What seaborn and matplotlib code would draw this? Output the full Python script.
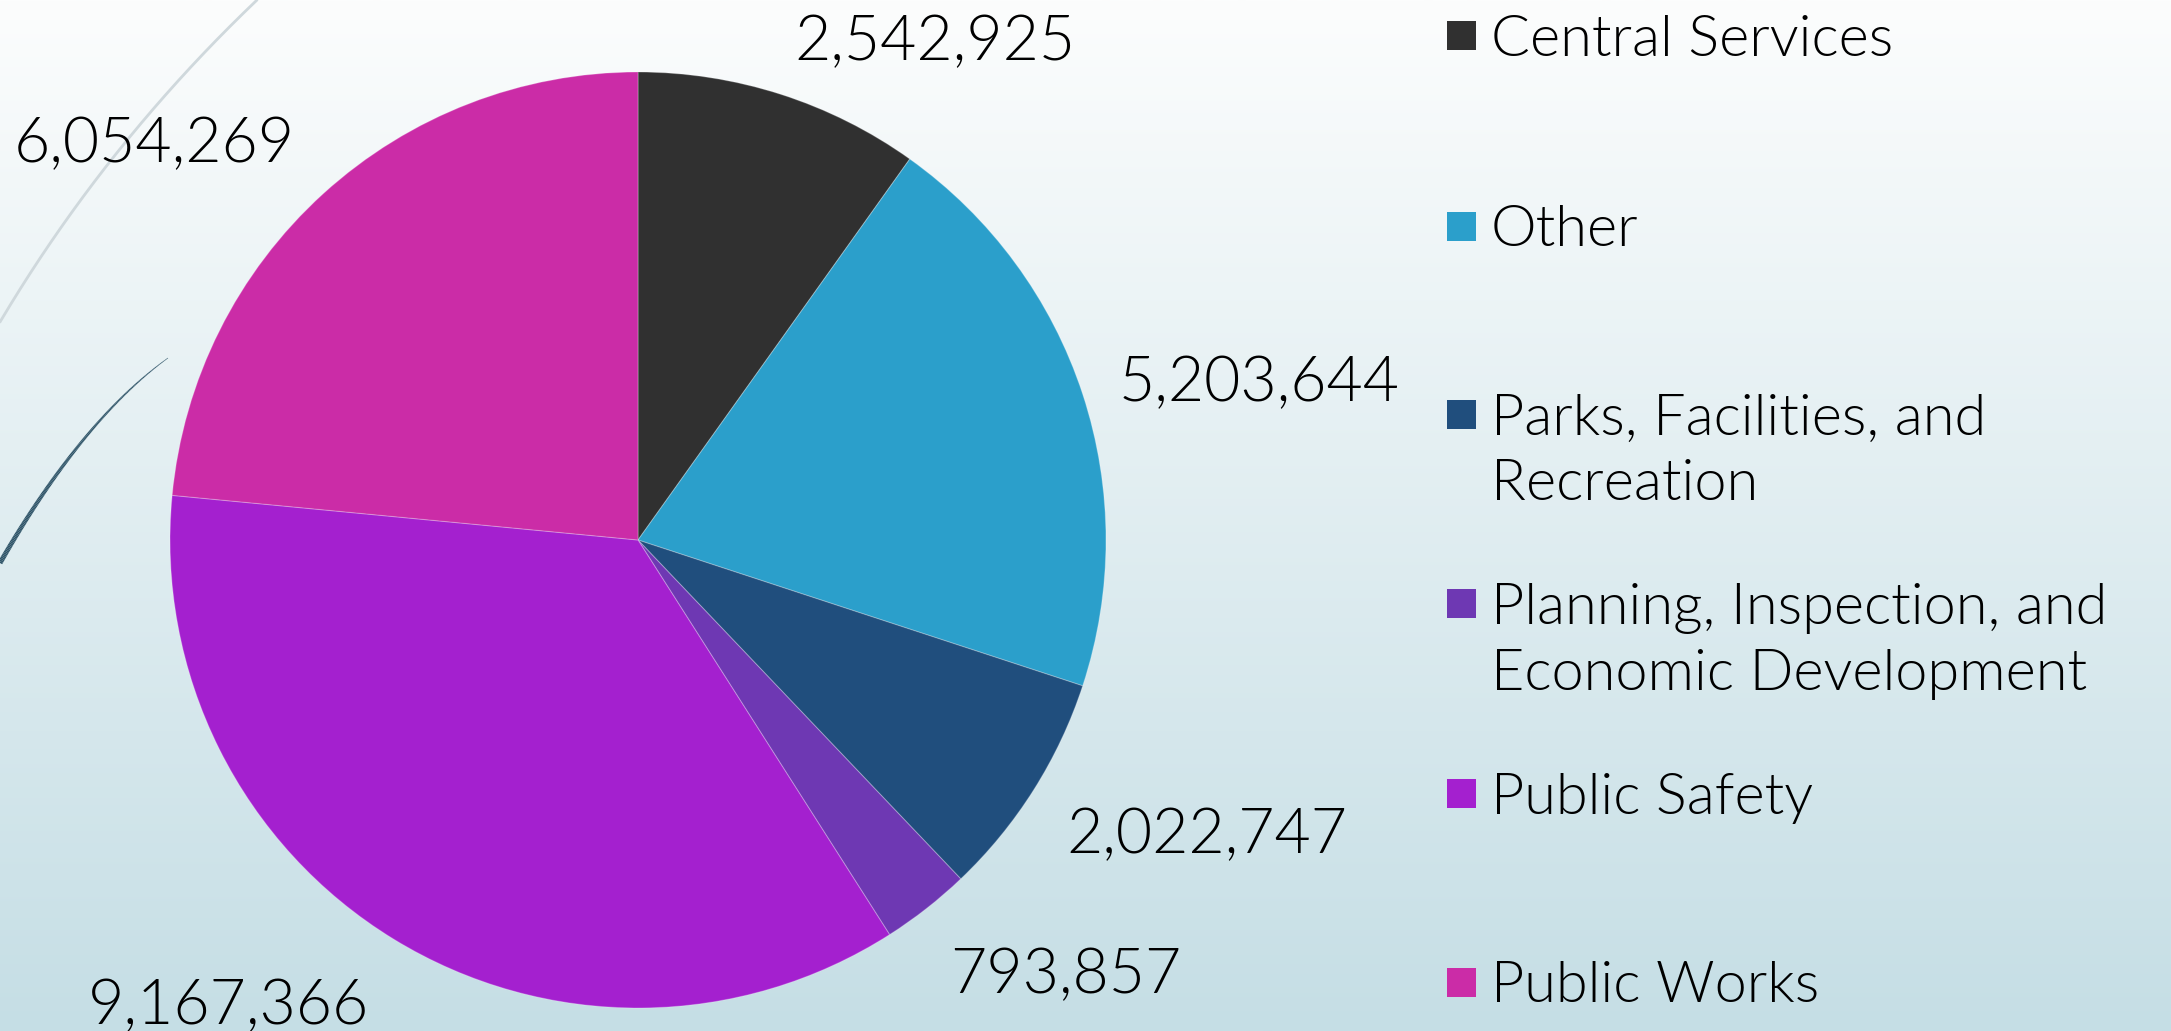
import numpy as np
import matplotlib
matplotlib.use("Agg")
import matplotlib.pyplot as plt
import seaborn as sns
from matplotlib.patches import Rectangle
from matplotlib.collections import LineCollection

# ---------------- data ----------------
categories = [
    "Central Services",
    "Other",
    "Parks, Facilities, and\nRecreation",
    "Planning, Inspection, and\nEconomic Development",
    "Public Safety",
    "Public Works",
]
values = [2542925, 5203644, 2022747, 793857, 9167366, 6054269]
colors = ["#303030", "#2b9fcb", "#204e7d", "#6e38b3", "#a420cf", "#cb2ca7"]
value_labels = [f"{v:,}" for v in values]

# ---------------- layout (pixels) ----------------
W, H = 2171, 1031
pie_center = (638, 540)
pie_radius = 468
label_centers = [(935, 37), (1259, 378), (1207, 830), (1066, 970), (228, 1001), (154, 139)]
legend_rows = [35, 226, 414, 603, 793, 982]
legend_marker_x = 1447
legend_text_x = 1491

sns.set_theme(style="white")
plt.rcParams["font.family"] = ["Lato", "DejaVu Sans"]

fig = plt.figure(figsize=(W / 100, H / 100), dpi=100)

# background gradient
ax_bg = fig.add_axes([0, 0, 1, 1], zorder=0)
top = np.array([252, 253, 253]) / 255
bot = np.array([197, 222, 229]) / 255
t = np.linspace(0, 1, 512)[:, None]
grad = (top[None, :] * (1 - t) + bot[None, :] * t)[:, None, :]
ax_bg.imshow(grad, extent=[0, W, H, 0], aspect="auto", interpolation="bilinear")
ax_bg.set_xlim(0, W)
ax_bg.set_ylim(H, 0)
ax_bg.axis("off")


def bezier(p0, c, p2, n=200):
    s = np.linspace(0, 1, n)[:, None]
    p0, c, p2 = map(np.array, (p0, c, p2))
    return (1 - s) ** 2 * p0 + 2 * (1 - s) * s * c + s ** 2 * p2


# decorative arcs
g = bezier((257, 0), (105, 145), (0, 322))
ax_bg.plot(g[:, 0], g[:, 1], color="#cfd8dc", lw=2.0, solid_capstyle="round")
d = bezier((168, 358), (82, 420), (0, 563))
segs = np.stack([d[:-1], d[1:]], axis=1)
widths = np.linspace(0.4, 3.6, len(segs))
ax_bg.add_collection(LineCollection(segs, linewidths=widths, colors="#2f5468"))

# pie
ax = fig.add_axes([(pie_center[0] - pie_radius) / W,
                   (H - pie_center[1] - pie_radius) / H,
                   2 * pie_radius / W, 2 * pie_radius / H], zorder=2)
ax.pie(values, colors=colors, startangle=90, counterclock=False, radius=1,
       wedgeprops=dict(edgecolor=(1, 1, 1, 0.25), linewidth=0.8))
ax.set_xlim(-1, 1)
ax.set_ylim(-1, 1)
ax.set_facecolor("none")
ax.axis("off")

# value labels
for (x, y), txt in zip(label_centers, value_labels):
    fig.text(x / W, 1 - (y + 23) / H, txt, fontsize=45, fontweight=300, ha="center",
             va="baseline", color="black", zorder=5)

# legend
for yc, cat, col in zip(legend_rows, categories, colors):
    fig.patches.append(Rectangle((legend_marker_x / W, 1 - (yc + 14.5) / H), 29 / W, 29 / H,
                                 transform=fig.transFigure, facecolor=col, edgecolor="none",
                                 zorder=5))
    for i, line in enumerate(cat.split("\n")):
        fig.text(legend_text_x / W, 1 - (yc + 20.5 + i * 66) / H, line, fontsize=41.5,
                 fontweight=300, ha="left", va="baseline", color="black", zorder=5)

fig.savefig("out.png", dpi=100)
